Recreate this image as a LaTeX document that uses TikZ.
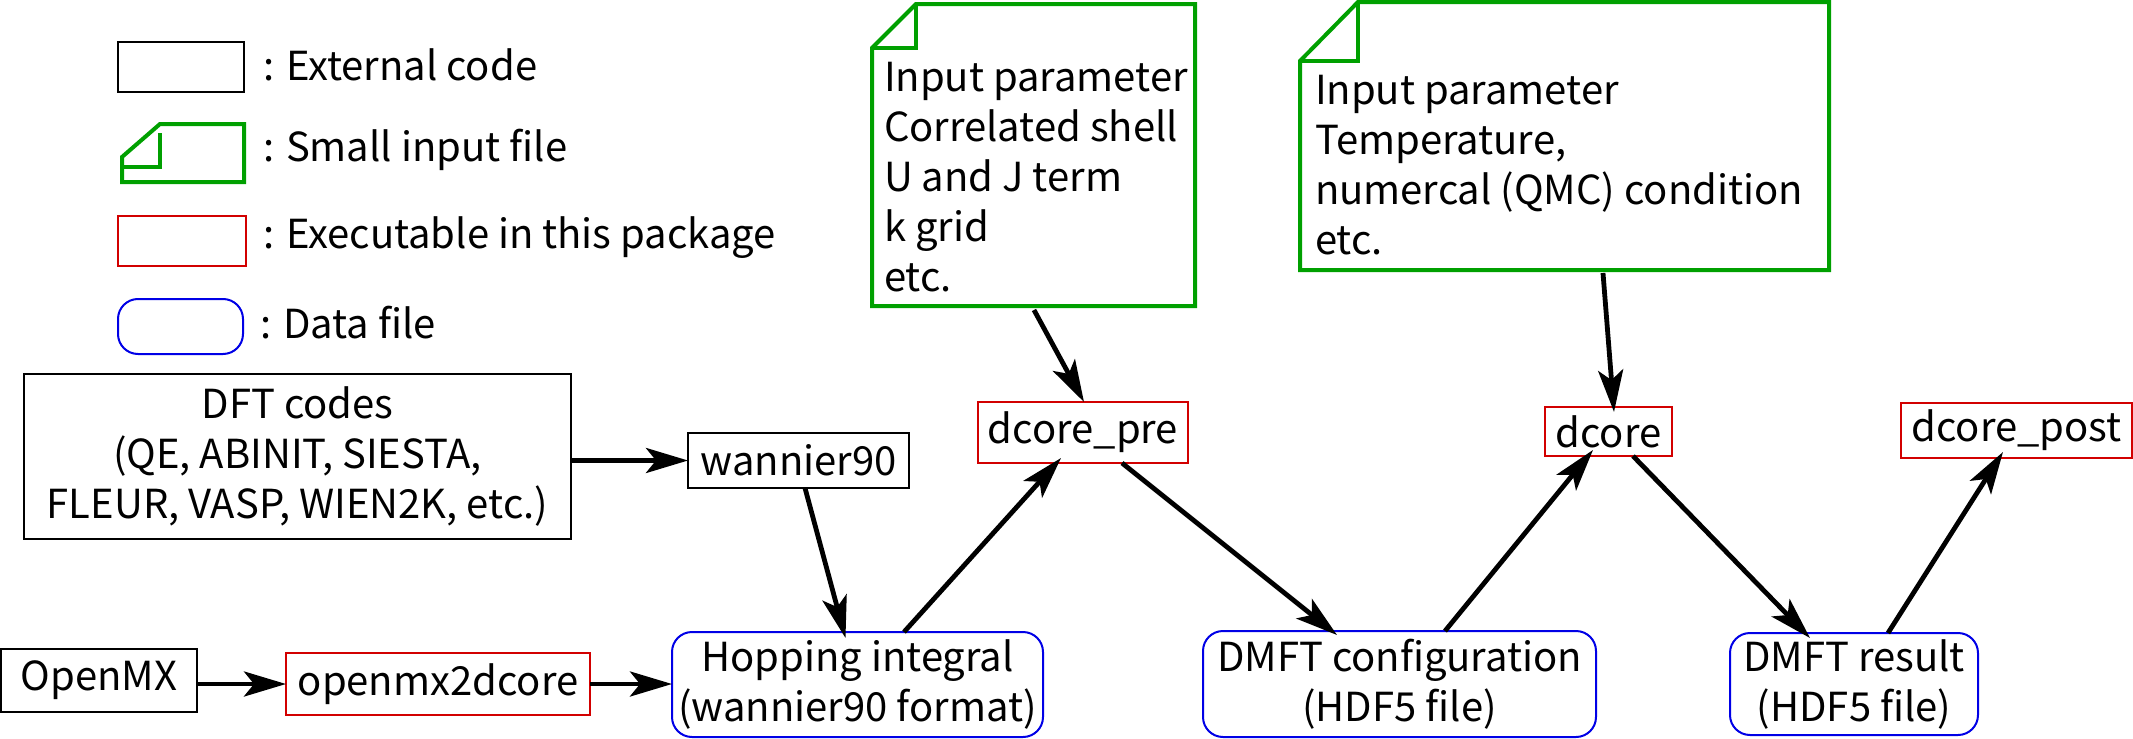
\documentclass[tikz,border=0pt]{standalone}
\usepackage{fontspec}
\setmainfont{Noto Sans CJK JP}
\usetikzlibrary{arrows.meta,calc}
\definecolor{fgreen}{RGB}{0,160,0}
\definecolor{fred}{RGB}{210,0,0}
\definecolor{fblue}{RGB}{0,0,230}
\begin{document}
\begin{tikzpicture}[x=0.5pt,y=-0.5pt,
  every node/.style={inner sep=0pt, outer sep=0pt, font=\fontsize{20}{25}\selectfont},
  sz/.style 2 args={minimum width={#1*0.5pt}, minimum height={#2*0.5pt}},
  ext/.style={draw=black, line width=1.3pt},
  exe/.style={draw=fred, line width=1pt},
  dat/.style={draw=fblue, line width=1pt, rounded corners=10pt},
  gline/.style={draw=fgreen, line width=2pt, line join=miter},
  arr/.style={-{Stealth[length=21pt,width=12.5pt,inset=5pt]}, line width=2.4pt},
  txt/.style={anchor=base west}]
\useasboundingbox (0,0) rectangle (2133,739);

% ---------- legend ----------
\node[ext, sz={126}{50}] (l1) at (181,67) {};
\node[txt] (l1t) at (263,80) {: External code};

\node[sz={122}{58}] (l2) at (183,153) {};
\draw[gline] ($(l2.north west)+(38,0)$) -- (l2.north east) -- (l2.south east) -- (l2.south west) -- ($(l2.north west)+(0,33)$) -- cycle;
\draw[gline] ($(l2.north west)+(38,9)$) -- ($(l2.north west)+(38,43)$) -- ($(l2.north west)+(0,43)$);
\node[txt] (l2t) at (263,161.7) {: Small input file};

\node[exe, sz={128}{50}] (l3) at (182,241) {};
\node[txt] (l3t) at (263,248.3) {: Executable in this package};

\node[dat, sz={125}{55}] (l4) at (180.5,326.5) {};
\node[txt] (l4t) at (260,338) {: Data file};

% ---------- main nodes ----------
\node[ext, sz={547}{165}, align=center] (dft) at (297.5,456.5)
  {DFT codes\\(QE, ABINIT, SIESTA,\\FLEUR, VASP, WIEN2K, etc.)};
\node[ext, sz={221}{55}] (wan) at (798.5,460.5) {wannier90};
\node[ext, sz={196}{63}] (omx) at (99,680.5) {OpenMX};
\node[exe, sz={304}{62}] (o2d) at (438,684) {openmx2dcore};
\node[dat, sz={371}{105}, align=center] (hop) at (857.5,684.5)
  {Hopping integral\\(wannier90 format)};
\node[exe, sz={210}{61}] (pre) at (1083,432.5) {dcore\_pre};
\node[dat, sz={393}{106}, align=center] (cfg) at (1399.5,684)
  {DMFT configuration\\(HDF5 file)};
\node[exe, sz={127}{49}] (dco) at (1608.5,431.5) {dcore};
\node[exe, sz={231}{55}] (post) at (2016.5,430.5) {dcore\_post};
\node[dat, sz={248}{102}, align=center] (res) at (1854,684)
  {DMFT result\\(HDF5 file)};

% input file 1
\node[sz={323}{302}] (in1) at (1033.5,155) {};
\draw[gline] ($(in1.north west)+(44,0)$) -- (in1.north east) -- (in1.south east) -- (in1.south west) -- ($(in1.north west)+(0,44)$) -- cycle;
\draw[gline] ($(in1.north west)+(44,0)$) -- ($(in1.north west)+(44,44)$) -- ($(in1.north west)+(0,44)$);
\node[anchor=north west, align=left] (in1t) at (884,62.5)
  {Input parameter\\Correlated shell\\U and J term\\k grid\\etc.};

% input file 2
\node[sz={529}{268}] (in2) at (1564.5,136) {};
\draw[gline] ($(in2.north west)+(58,0)$) -- (in2.north east) -- (in2.south east) -- (in2.south west) -- ($(in2.north west)+(0,59)$) -- cycle;
\draw[gline] ($(in2.north west)+(58,0)$) -- ($(in2.north west)+(58,59)$) -- ($(in2.north west)+(0,59)$);
\node[anchor=north west, align=left] (in2t) at (1315,75)
  {Input parameter\\Temperature,\\numercal (QMC) condition\\etc.};

% ---------- connectors ----------
\draw[arr] (dft.east |- wan.west) -- (wan.west);
\draw[arr] ($(wan.south)+(6.5,0)$) -- ($(hop.north)+(-12,6)$);
\draw[arr] (omx.east |- o2d.west) -- (o2d.west);
\draw[arr] (o2d.east) -- (hop.west |- o2d.east);
\draw[arr] ($(hop.north)+(46.5,0)$) -- ($(pre.south)+(-22,-5)$);
\draw[arr] ($(in1.south)+(0.5,4)$) -- ($(pre.north)+(1,0)$);
\draw[arr] ($(pre.south)+(39,0)$) -- ($(cfg.north)+(-62.5,4)$);
\draw[arr] ($(cfg.north)+(45.5,0)$) -- ($(dco.south)+(-15.5,-6)$);
\draw[arr] ($(in2.south)+(38.5,3)$) -- ($(dco.north)+(5.5,5)$);
\draw[arr] ($(dco.south)+(24.5,0)$) -- ($(res.north)+(-44,5)$);
\draw[arr] ($(res.north)+(34,0)$) -- ($(post.south)+(-13.5,-6)$);
\end{tikzpicture}
\end{document}
